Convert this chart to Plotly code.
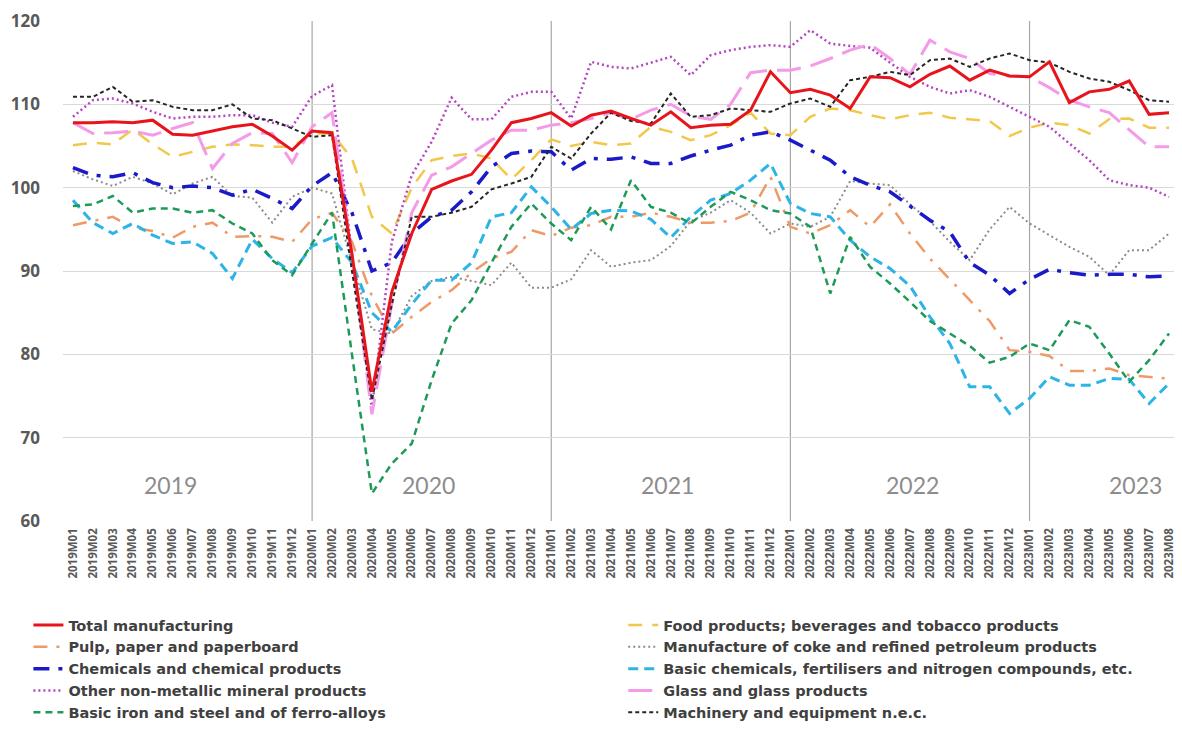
import plotly.graph_objects as go

months = [f"{y}M{m:02d}" for y in range(2019, 2024) for m in range(1, 13)][:56]

total = [107.8,107.8,107.9,107.8,108.1,106.4,106.3,106.8,107.3,107.6,106.2,104.5,
         106.8,106.6,92.0,75.5,87.5,94.5,99.8,100.8,101.6,104.5,107.8,108.3,
         109.0,107.4,108.7,109.2,108.3,107.5,109.1,107.2,107.5,107.6,109.3,113.9,
         111.4,111.8,111.1,109.5,113.3,113.2,112.1,113.6,114.6,112.9,114.1,113.4,
         113.3,115.1,110.2,111.5,111.8,112.8,108.8,109.0]
food = [105.1,105.4,105.2,107.0,105.2,103.7,104.3,104.9,105.2,105.1,104.9,104.9,
        106.5,106.5,103.5,96.5,94.5,100.0,103.3,103.8,104.1,103.5,101.0,103.3,
        105.8,105.0,105.5,105.1,105.3,107.3,106.7,105.7,106.3,107.5,109.0,106.5,
        106.3,108.5,109.5,109.3,108.7,108.2,108.7,109.0,108.4,108.2,108.0,106.2,
        107.2,107.8,107.5,106.5,108.2,108.3,107.2,107.2]
pulp = [95.5,96.0,96.5,95.2,94.8,94.0,95.3,95.8,94.1,94.2,94.1,93.5,
        96.2,97.0,93.5,87.0,82.5,84.5,86.3,87.7,89.8,91.5,92.3,94.9,
        94.2,95.2,95.5,96.5,96.5,97.0,96.5,95.8,95.8,96.0,97.0,101.3,
        95.3,94.5,95.5,97.3,95.3,98.0,94.5,91.5,89.0,86.5,84.0,80.5,
        80.3,79.8,78.0,78.0,78.3,77.5,77.3,77.1]
coke = [102.0,101.0,100.2,101.3,100.5,99.2,100.5,101.3,99.0,98.8,95.8,98.9,
        100.0,99.3,91.0,83.0,82.5,87.0,88.8,89.3,88.8,88.3,91.0,88.0,
        88.0,89.0,92.5,90.5,91.0,91.3,93.0,96.0,97.0,98.5,97.0,94.5,
        95.7,95.3,96.5,100.8,100.5,100.3,98.0,96.0,93.5,91.3,95.0,97.7,
        95.7,94.3,92.9,91.7,89.5,92.5,92.5,94.5]
chem = [102.4,101.5,101.3,101.8,100.6,100.0,100.2,100.0,99.1,99.8,98.7,97.5,
        100.2,101.8,97.0,90.0,91.0,94.5,96.5,97.3,99.5,102.5,104.1,104.4,
        104.3,102.1,103.5,103.4,103.7,102.9,102.9,103.8,104.5,105.1,106.3,106.7,
        105.7,104.5,103.3,101.3,100.3,99.5,97.8,96.1,94.7,91.0,89.5,87.3,
        89.0,90.2,89.8,89.5,89.6,89.6,89.3,89.4]
basic_chem = [98.5,95.8,94.5,95.7,94.3,93.3,93.5,92.1,89.1,93.8,91.5,89.8,
              93.0,94.0,91.0,85.0,82.7,86.0,88.9,88.9,91.0,96.5,97.0,100.1,
              97.7,95.0,96.9,97.3,97.2,96.2,94.0,96.5,98.5,99.3,100.9,102.9,
              98.1,96.9,96.5,93.7,91.7,90.3,88.2,84.5,81.3,76.1,76.1,72.9,
              74.7,77.3,76.3,76.3,77.1,77.0,74.1,76.5]
non_metal = [108.5,110.5,110.7,110.1,109.1,108.3,108.5,108.5,108.7,108.7,107.8,107.3,
             111.0,112.3,92.0,73.5,93.5,101.5,105.5,110.8,108.2,108.2,110.9,111.5,
             111.5,108.3,115.1,114.5,114.3,115.0,115.7,113.5,115.9,116.5,116.9,117.1,
             116.9,118.9,117.3,117.0,116.8,115.0,113.3,112.1,111.3,111.7,110.9,109.7,
             108.5,107.3,105.3,103.3,100.9,100.3,100.0,98.9]
glass = [107.8,106.5,106.6,106.8,106.3,107.1,107.8,102.3,105.3,106.6,106.5,103.0,
         107.3,109.0,92.0,72.8,86.0,97.0,101.5,102.5,104.1,105.7,106.9,106.9,
         107.5,107.8,108.3,109.0,108.2,109.3,110.0,108.6,108.2,110.0,113.8,114.1,
         114.1,114.6,115.5,116.5,117.2,115.5,113.6,117.7,116.3,115.5,113.7,113.4,
         113.3,112.0,110.5,109.7,109.0,107.0,104.9,104.9]
iron = [97.8,98.0,99.0,97.0,97.5,97.5,97.0,97.3,95.7,94.5,91.3,89.5,
        93.3,97.0,80.0,63.3,66.9,69.3,76.9,83.7,86.5,91.0,95.3,98.1,
        95.7,93.7,97.7,95.0,100.9,97.7,97.0,95.7,97.7,99.5,98.5,97.3,
        96.9,95.3,87.3,94.1,90.5,88.5,86.3,84.0,82.5,81.0,79.0,79.7,
        81.3,80.5,84.1,83.3,80.1,76.7,79.3,82.5]
machinery = [110.9,110.9,112.1,110.3,110.5,109.7,109.3,109.3,110.0,108.3,108.1,107.1,
             106.1,106.3,90.0,74.5,86.0,96.5,96.5,97.0,97.7,99.8,100.5,101.3,
             104.9,103.5,106.5,109.0,108.0,107.7,111.3,108.5,108.7,109.5,109.3,109.1,
             110.1,110.7,109.7,112.9,113.3,113.9,113.5,115.3,115.5,114.5,115.5,116.1,
             115.3,115.0,113.9,113.1,112.7,111.7,110.5,110.3]

years = ["2019", "2020", "2021", "2022", "2023"]
year_pos = [4.9, 17.85, 29.85, 42.15, 53.3]
year_bounds = [12, 24, 36, 48]

x = list(range(len(months)))

# name, data, color, width, dash, legend, rank
series = [
    ("Total manufacturing", total, "#E8141B", 3, "solid", "legend", 1),
    ("Food products; beverages and tobacco products", food, "#F2C84B", 2.5, "14px,10px", "legend2", 1),
    ("Pulp, paper and paperboard", pulp, "#EE9A68", 2.5, "14px,9px,3px,9px", "legend", 2),
    ("Manufacture of coke and refined petroleum products", coke, "#8C8C8C", 2, "2px,3px", "legend2", 2),
    ("Chemicals and chemical products", chem, "#1A1AC8", 3.5, "16px,9px,4px,9px", "legend", 3),
    ("Basic chemicals, fertilisers and nitrogen compounds, etc.", basic_chem, "#2DB4E6", 3, "10px,6px", "legend2", 3),
    ("Other non-metallic mineral products", non_metal, "#B444C0", 2.5, "2px,3px", "legend", 4),
    ("Glass and glass products", glass, "#F49BE8", 3, "24px,10px", "legend2", 4),
    ("Basic iron and steel and of ferro-alloys", iron, "#1E9A58", 2.5, "7px,5px", "legend", 5),
    ("Machinery and equipment n.e.c.", machinery, "#262626", 2, "4px,3px", "legend2", 5),
]

fig = go.Figure()
draw_order = [3, 1, 2, 5, 8, 4, 6, 7, 9, 0]
for k in draw_order:
    name, data, color, w, dash, leg, rank = series[k]
    fig.add_trace(go.Scatter(
        x=x, y=data, mode="lines", name=name, legend=leg, legendrank=rank,
        line=dict(color=color, width=w, dash=dash),
    ))

shapes = []
for b in year_bounds:
    shapes.append(dict(type="line", xref="x", yref="paper", x0=b, x1=b, y0=0, y1=1,
                       line=dict(color="#A6A6A6", width=1.2), layer="below"))

annotations = []
for yr, p in zip(years, year_pos):
    annotations.append(dict(x=p, y=64.3, xref="x", yref="y", text=yr, showarrow=False,
                            font=dict(family="Lato", size=23, color="#8C8C8C")))

legend_font = dict(family="DejaVu Sans", size=14.5, color="#404040", weight="bold")
fig.update_layout(
    width=1174, height=722,
    margin=dict(l=55, r=3, t=13, b=209, autoexpand=False),
    paper_bgcolor="white", plot_bgcolor="white",
    font=dict(family="Open Sans", color="#595959"),
    shapes=shapes, annotations=annotations,
    showlegend=True,
    legend=dict(orientation="v", x=-0.031, y=-0.176, xanchor="left", yanchor="top",
                traceorder="normal", font=legend_font, tracegroupgap=0, itemwidth=30,
                bgcolor="rgba(0,0,0,0)"),
    legend2=dict(orientation="v", x=0.502, y=-0.176, xanchor="left", yanchor="top",
                 traceorder="normal", font=legend_font, tracegroupgap=0, itemwidth=30,
                 bgcolor="rgba(0,0,0,0)"),
)
fig.update_xaxes(range=[-0.5, 55.5], tickmode="array", tickvals=x, ticktext=months,
                 tickangle=-90, tickfont=dict(family="Open Sans", size=11.5, color="#595959", weight="bold"),
                 showgrid=False, zeroline=False, showline=False, ticks="", ticklabelstandoff=4)
fig.update_yaxes(range=[60, 120], dtick=10, showgrid=True, gridcolor="#D9D9D9", gridwidth=1.2,
                 zeroline=False, showline=False, ticks="", ticklabelstandoff=22,
                 tickfont=dict(family="Open Sans", size=17, color="#595959", weight="bold"))

fig.write_html("out.html")
